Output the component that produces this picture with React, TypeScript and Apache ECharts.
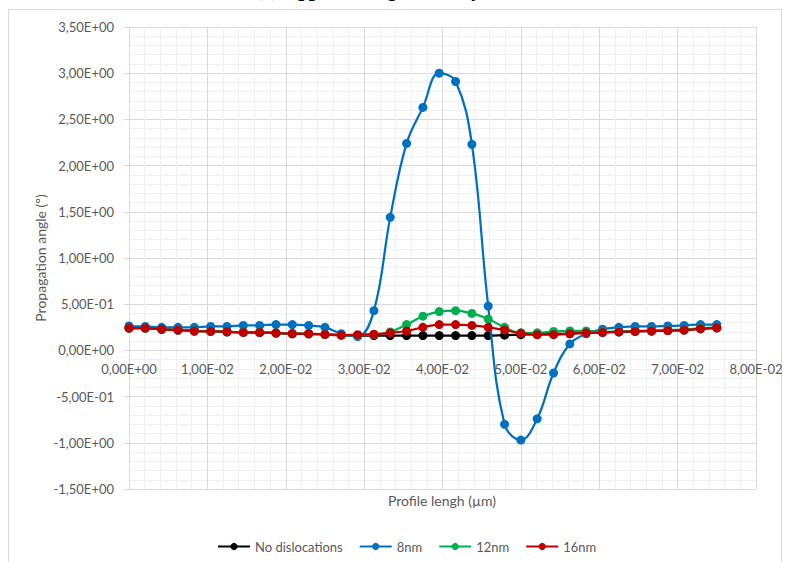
import React, { useEffect, useRef } from "react";
import * as echarts from "echarts";

const xValues = [
  0, 0.00208, 0.00417, 0.00625, 0.00833, 0.01042, 0.0125, 0.01458, 0.01667, 0.01875,
  0.02083, 0.02292, 0.025, 0.02708, 0.02917, 0.03125, 0.03333, 0.03542, 0.0375, 0.03958,
  0.04167, 0.04375, 0.04583, 0.04792, 0.05, 0.05208, 0.05417, 0.05625, 0.05833, 0.06042,
  0.0625, 0.06458, 0.06667, 0.06875, 0.07083, 0.07292, 0.075,
];

const noDislocations = [
  0.24, 0.24, 0.228, 0.22, 0.21, 0.206, 0.2, 0.195, 0.192, 0.188,
  0.182, 0.18, 0.173, 0.165, 0.16, 0.16, 0.16, 0.16, 0.16, 0.16,
  0.16, 0.16, 0.16, 0.165, 0.17, 0.175, 0.178, 0.182, 0.19, 0.195,
  0.2, 0.205, 0.21, 0.215, 0.22, 0.233, 0.243,
];

const nm8 = [
  0.264, 0.26, 0.25, 0.25, 0.25, 0.26, 0.26, 0.27, 0.27, 0.28,
  0.28, 0.27, 0.25, 0.18, 0.15, 0.43, 1.44, 2.24, 2.63, 3.0,
  2.91, 2.23, 0.48, -0.8, -0.97, -0.74, -0.245, 0.07, 0.18, 0.23,
  0.25, 0.26, 0.26, 0.265, 0.27, 0.28, 0.28,
];

const nm12 = [
  0.242, 0.242, 0.228, 0.22, 0.21, 0.206, 0.202, 0.195, 0.195, 0.188,
  0.18, 0.18, 0.173, 0.165, 0.165, 0.17, 0.2, 0.28, 0.37, 0.42,
  0.43, 0.4, 0.34, 0.25, 0.19, 0.19, 0.205, 0.21, 0.21, 0.2,
  0.205, 0.21, 0.215, 0.22, 0.225, 0.24, 0.25,
];

const nm16 = [
  0.242, 0.242, 0.228, 0.22, 0.21, 0.206, 0.202, 0.195, 0.195, 0.188,
  0.18, 0.18, 0.173, 0.165, 0.17, 0.175, 0.19, 0.21, 0.25, 0.28,
  0.28, 0.27, 0.25, 0.22, 0.185, 0.17, 0.17, 0.18, 0.19, 0.195,
  0.2, 0.205, 0.21, 0.215, 0.22, 0.235, 0.245,
];

const seriesNames = ["No dislocations", "8nm", "12nm", "16nm"];
const seriesColors = ["#000000", "#0070C0", "#00B050", "#C00000"];
const seriesData = [noDislocations, nm8, nm12, nm16];

const titleText = "(a) Approaching the array";
const xAxisTitle = "Profile lengh (µm)";
const yAxisTitle = "Propagation angle (º)";

function sci(v: number): string {
  if (Math.abs(v) < 1e-12) return "0,00E+00";
  const s = v.toExponential(2);
  const [m, e] = s.split("e");
  const en = parseInt(e, 10);
  const es = (en < 0 ? "-" : "+") + String(Math.abs(en)).padStart(2, "0");
  return m.replace(".", ",") + "E" + es;
}

const FONT = "Lato";
const GRID_TOP = 27;
const GRID_BOTTOM_PX = 489;
const Y_MIN = -1.5;
const Y_MAX = 3.5;

export default function App() {
  const ref = useRef<HTMLDivElement>(null);
  useEffect(() => {
    document.body.style.margin = "0";
    if (!ref.current) return;
    const chart = echarts.init(ref.current, undefined, { renderer: "svg" });
    const zeroOffset = -((0 - Y_MIN) / (Y_MAX - Y_MIN)) * (GRID_BOTTOM_PX - GRID_TOP);
    const series = seriesNames.map((name, k) => ({
      name,
      type: "line",
      data: xValues.map((x, i) => [x, seriesData[k][i]]),
      smooth: 0.4,
      symbol: "circle",
      symbolSize: 9,
      showSymbol: true,
      lineStyle: { color: seriesColors[k], width: 2.25 },
      itemStyle: { color: seriesColors[k] },
      z: 2 + k,
    }));
    chart.setOption({
      animation: false,
      backgroundColor: "#ffffff",
      textStyle: { fontFamily: FONT },
      grid: { left: 129, right: 34, top: GRID_TOP, bottom: 562 - GRID_BOTTOM_PX, containLabel: false },
      legend: {
        data: seriesNames,
        left: 212,
        top: 535,
        itemWidth: 32,
        itemHeight: 9,
        itemGap: 16,
        textStyle: { color: "#595959", fontSize: 13, fontFamily: FONT },
      },
      xAxis: {
        type: "value",
        min: 0,
        max: 0.08,
        interval: 0.01,
        position: "bottom",
        offset: zeroOffset,
        axisLine: { show: true, onZero: false, lineStyle: { color: "#d9d9d9", width: 1 } },
        axisTick: { show: false },
        axisLabel: {
          formatter: (v: number) => sci(v),
          color: "#595959",
          fontSize: 13,
          margin: 12,
          fontFamily: FONT,
        },
        splitLine: { show: true, lineStyle: { color: "#d9d9d9", width: 1 } },
        minorTick: { show: false, splitNumber: 5 },
        minorSplitLine: { show: true, lineStyle: { color: "#f0f0f0", width: 1 } },
      },
      yAxis: {
        type: "value",
        min: Y_MIN,
        max: Y_MAX,
        interval: 0.5,
        axisLine: { show: true, onZero: false, lineStyle: { color: "#d9d9d9", width: 1 } },
        axisTick: { show: true, length: 5, lineStyle: { color: "#d9d9d9" } },
        axisLabel: {
          formatter: (v: number) => sci(v),
          color: "#595959",
          fontSize: 13,
          margin: 15,
          fontFamily: FONT,
        },
        splitLine: { show: true, lineStyle: { color: "#d9d9d9", width: 1 } },
        minorTick: { show: false, splitNumber: 5 },
        minorSplitLine: { show: true, lineStyle: { color: "#f0f0f0", width: 1 } },
      },
      graphic: [
        {
          type: "rect",
          shape: { x: 8.5, y: 9.5, width: 773, height: 600 },
          style: { fill: "none", stroke: "#d9d9d9", lineWidth: 1 },
          silent: true,
          z: -10,
        },
        {
          type: "text",
          x: 257,
          y: -1,
          style: {
            text: titleText,
            fontFamily: "Liberation Serif",
            fontSize: 21,
            fontWeight: "bold",
            fontStyle: "italic",
            fill: "#000000",
            verticalAlign: "bottom",
          },
        },
        {
          type: "text",
          x: 442,
          y: 500,
          style: {
            text: xAxisTitle,
            fontFamily: FONT,
            fontSize: 14,
            fill: "#595959",
            align: "center",
            verticalAlign: "middle",
          },
        },
        {
          type: "text",
          x: 40,
          y: 258,
          rotation: Math.PI / 2,
          style: {
            text: yAxisTitle,
            fontFamily: FONT,
            fontSize: 14,
            fill: "#595959",
            align: "center",
            verticalAlign: "middle",
          },
        },
      ],
      series,
    });
    return () => chart.dispose();
  }, []);
  return <div ref={ref} style={{ width: 790, height: 562 }} />;
}
